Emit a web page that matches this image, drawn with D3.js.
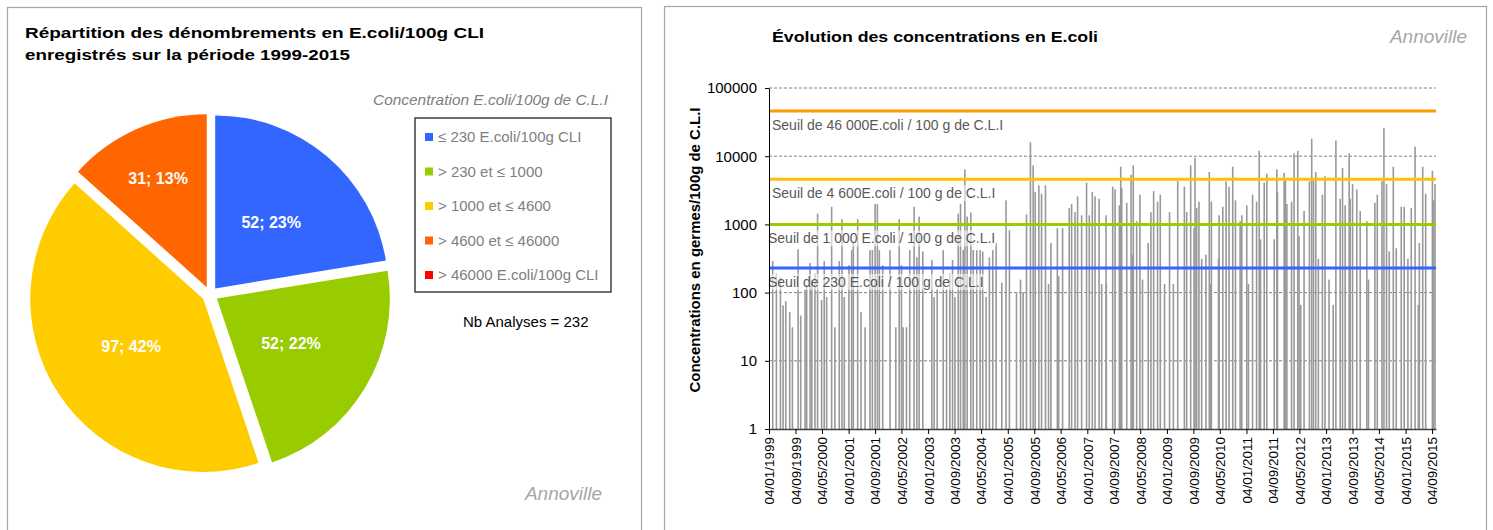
<!DOCTYPE html>
<html>
<head>
<meta charset="utf-8">
<script src="https://cdn.jsdelivr.net/npm/d3@7"></script>
<style>
body{margin:0;background:#fff}
svg{display:block;font-family:"Liberation Sans",Arial,sans-serif}
</style>
</head>
<body>
<script>
// pie data
const classes=["≤ 230 E.coli/100g CLI","> 230 et ≤ 1000","> 1000 et ≤ 4600","> 4600 et ≤ 46000","> 46000 E.coli/100g CLI"];
const counts=[52,52,97,31,0];
const pctLabels=["23%","22%","42%","13%","0%"];
const pieColors=["#3366ff","#99cc00","#ffcc00","#ff6600","#ff0000"];

// seuils
const seuils=[46000,4600,1000,230];
const seuilLabels=["Seuil de 46 000E.coli / 100 g de C.L.I","Seuil de 4 600E.coli / 100 g de C.L.I","Seuil de 1 000 E.coli / 100 g de C.L.I","Seuil de 230 E.coli / 100 g de C.L.I"];
const seuilColors=["#ff9900","#ffc000","#99cc00","#3366ff"];

const tickLabels=["04/01/1999","04/09/1999","04/05/2000","04/01/2001","04/09/2001","04/05/2002","04/01/2003","04/09/2003","04/05/2004","04/01/2005","04/09/2005","04/05/2006","04/01/2007","04/09/2007","04/05/2008","04/01/2009","04/09/2009","04/05/2010","04/01/2011","04/09/2011","04/05/2012","04/01/2013","04/09/2013","04/05/2014","04/01/2015","04/09/2015"];

const sampleDates=["1999-02-07","1999-03-13","1999-04-19","1999-05-13","1999-06-07","1999-07-13","1999-08-07","1999-09-28","1999-10-22","1999-12-01","1999-12-16",
"2000-01-16","2000-02-01","2000-03-01","2000-03-25","2000-05-01","2000-05-25","2000-06-16","2000-08-01","2000-08-31","2000-10-10","2000-11-04","2000-11-25",
"2001-01-07","2001-02-01","2001-02-16","2001-03-28","2001-04-28","2001-06-04","2001-07-19","2001-08-10","2001-09-04","2001-09-25","2001-10-13","2001-11-13",
"2002-01-19","2002-03-13","2002-04-13","2002-05-04","2002-05-19","2002-06-19","2002-07-19","2002-08-28","2002-09-22","2002-10-13","2002-11-16",
"2003-02-07","2003-02-28","2003-03-28","2003-05-22","2003-06-22","2003-07-22","2003-08-16","2003-09-07","2003-10-07","2003-10-28","2003-11-22","2003-12-07","2003-12-28",
"2004-01-31","2004-02-22","2004-03-25","2004-04-25","2004-05-19","2004-06-19","2004-07-19","2004-08-19","2004-09-19","2004-11-10","2004-12-19",
"2005-01-19","2005-03-25","2005-05-01","2005-05-25","2005-06-25","2005-07-31","2005-08-25","2005-09-13","2005-10-16","2005-11-10","2005-12-16",
"2006-01-13","2006-02-04","2006-04-04","2006-04-16","2006-05-22","2006-07-22","2006-08-13","2006-09-13","2006-10-07","2006-11-13","2006-12-28",
"2007-01-22","2007-02-19","2007-03-16","2007-04-22","2007-05-16","2007-06-25","2007-06-28","2007-08-25","2007-09-16","2007-10-25","2007-11-07","2007-11-16",
"2008-01-01","2008-02-10","2008-02-25","2008-03-01","2008-04-01","2008-05-01","2008-05-25","2008-07-16","2008-08-10","2008-09-04","2008-10-10","2008-11-04","2008-12-13",
"2009-01-28","2009-03-04","2009-04-13","2009-06-13","2009-07-04","2009-08-10","2009-09-10","2009-09-19","2009-10-04","2009-10-25","2009-11-19","2009-12-28",
"2010-01-28","2010-02-07","2010-02-16","2010-04-22","2010-04-28","2010-06-01","2010-07-01","2010-07-28","2010-08-31","2010-09-25","2010-11-07","2010-11-22",
"2011-01-07","2011-01-22","2011-03-01","2011-04-07","2011-05-01","2011-05-13","2011-06-16","2011-07-10","2011-09-16","2011-10-10","2011-10-16","2011-12-16","2011-12-28",
"2012-01-10","2012-02-22","2012-03-16","2012-04-19","2012-05-01","2012-05-16","2012-06-16","2012-08-04","2012-08-25","2012-09-10","2012-10-01","2012-10-25","2012-12-01","2012-12-25",
"2013-01-31","2013-03-10","2013-04-04","2013-05-13","2013-06-04","2013-06-28","2013-08-04","2013-08-13","2013-09-04","2013-10-13","2013-11-13",
"2014-01-13","2014-01-28","2014-03-28","2014-04-19","2014-06-01","2014-06-19","2014-07-13","2014-08-07","2014-09-13","2014-10-10","2014-11-25","2014-12-22",
"2015-01-25","2015-02-25","2015-04-01","2015-05-01","2015-05-10","2015-06-10","2015-07-07","2015-09-07","2015-09-16","2015-10-01"];

const sampleValues=[290,190,170,65,75,52,31,430,46,112,128,
272,150,190,1440,78,290,86,1810,31,290,1200,86,
252,420,535,1200,52,31,420,420,2000,2000,420,252,
420,31,1200,252,31,31,420,1810,330,1300,400,
300,86,112,420,112,190,300,86,1440,2000,420,6400,1300,
1500,420,420,420,400,86,330,420,535,140,2250,
820,102,155,102,1400,16000,7300,3000,3730,2830,3730,
134,535,880,174,880,1730,1990,1510,2580,1360,4090,
1360,2990,2580,2380,134,1360,134,3570,3270,1900,7000,3430,
2080,5350,361,7300,1110,2730,155,535,1510,3080,2160,2730,134,
1510,134,4420,3570,1510,7300,880,9500,1730,2160,312,361,
5850,134,2160,312,1360,1810,4280,3570,7000,2250,1110,1360,
1900,134,2730,2160,12000,605,4090,5530,605,6400,2990,5700,4420,
1990,2160,11000,12000,670,66,1570,4280,18000,4420,5850,312,2730,5060,
155,66,17000,2380,6700,1900,11000,2380,3900,3270,1570,
1110,155,2080,2730,4280,25800,3900,404,7000,447,1810,1810,
312,1730,13800,66,535,7000,2830,6100,2250,3900];

const w=1493,h=530;
const svg=d3.select("body").append("svg").attr("width",w).attr("height",h);

// panels
svg.append("rect").attr("x",7.5).attr("y",7.5).attr("width",634).attr("height",540)
  .attr("fill","#fff").attr("stroke","#a6a6a6").attr("stroke-width",1.2);
svg.append("rect").attr("x",664.5).attr("y",6.5).attr("width",822).attr("height",540)
  .attr("fill","#fff").attr("stroke","#a6a6a6").attr("stroke-width",1.2);

// ---------- left : pie ----------
svg.append("text").attr("x",25).attr("y",38).attr("font-size",15).attr("font-weight","bold")
  .attr("textLength",459).attr("lengthAdjust","spacingAndGlyphs")
  .text("Répartition des dénombrements en E.coli/100g  CLI");
svg.append("text").attr("x",25).attr("y",60).attr("font-size",15).attr("font-weight","bold")
  .attr("textLength",325).attr("lengthAdjust","spacingAndGlyphs")
  .text("enregistrés sur  la période 1999-2015");

const r=173;
const pie=d3.pie().sort(null).value(d=>d);
const arc=d3.arc().innerRadius(0).outerRadius(r);
const pg=svg.append("g").attr("transform","translate(210,294.5)");
const slices=pg.selectAll("g").data(pie(counts).filter(d=>d.data>0)).join("g")
  .attr("transform",d=>{const a=(d.startAngle+d.endAngle)/2;return `translate(${8*Math.sin(a)},${-8*Math.cos(a)})`});
slices.append("path").attr("d",arc).attr("fill",d=>pieColors[d.index]);
slices.append("text")
  .attr("transform",d=>{const a=(d.startAngle+d.endAngle)/2,lr=d.data<40?r*0.69:r*0.5;return `translate(${lr*Math.sin(a)},${-lr*Math.cos(a)})`})
  .attr("text-anchor","middle").attr("dy","0.36em")
  .attr("fill","#fff").attr("font-weight","bold").attr("font-size",16)
  .text(d=>d.data+"; "+pctLabels[d.index]);

svg.append("text").attr("x",608).attr("y",105).attr("text-anchor","end")
  .attr("font-size",14).attr("font-style","italic").attr("fill","#808080")
  .attr("textLength",235).attr("lengthAdjust","spacingAndGlyphs")
  .text("Concentration E.coli/100g de C.L.I");

const lg=svg.append("g").attr("transform","translate(415,118)");
lg.append("rect").attr("x",0).attr("y",0).attr("width",196).attr("height",174)
  .attr("fill","#fff").attr("stroke","#222").attr("stroke-width",1.3);
const li=lg.selectAll("g.item").data(classes).join("g").attr("class","item")
  .attr("transform",(d,i)=>`translate(10,${19+i*34.5})`);
li.append("rect").attr("x",0).attr("y",-4).attr("width",8).attr("height",8).attr("fill",(d,i)=>pieColors[i]);
li.append("text").attr("x",13).attr("dy","0.36em").attr("font-size",15).attr("fill","#808080").text(d=>d);

svg.append("text").attr("x",463).attr("y",327).attr("font-size",15).attr("fill","#000")
  .text("Nb Analyses = "+d3.sum(counts));
svg.append("text").attr("x",602).attr("y",500).attr("text-anchor","end")
  .attr("font-size",19).attr("font-style","italic").attr("fill","#a6a6a6").text("Annoville");

// ---------- right : bars ----------
const parse=d3.timeParse("%Y-%m-%d"), parseTick=d3.timeParse("%d/%m/%Y");
const x=d3.scaleTime().domain([parse("1999-01-04"),parse("2015-10-10")]).range([769,1436]);
const y=d3.scaleLog().domain([1,100000]).range([429,88]);

svg.append("text").attr("x",772).attr("y",42).attr("font-size",15).attr("font-weight","bold")
  .attr("textLength",326).attr("lengthAdjust","spacingAndGlyphs")
  .text("Évolution des concentrations en E.coli");
svg.append("text").attr("x",1467).attr("y",43).attr("text-anchor","end")
  .attr("font-size",19).attr("font-style","italic").attr("fill","#a6a6a6").text("Annoville");

svg.append("g").selectAll("line").data([10,100,1000,10000,100000]).join("line")
  .attr("x1",769).attr("x2",1436).attr("y1",d=>y(d)).attr("y2",d=>y(d))
  .attr("stroke","#808080").attr("stroke-dasharray","3,2");

const samples=sampleDates.map((d,i)=>({date:parse(d),value:sampleValues[i]}));
svg.append("g").selectAll("rect").data(samples).join("rect")
  .attr("x",d=>x(d.date)-0.8).attr("width",1.6)
  .attr("y",d=>y(d.value)).attr("height",d=>y(1)-y(d.value))
  .attr("fill","#999");

svg.append("g").selectAll("line").data(seuils).join("line")
  .attr("x1",769).attr("x2",1436).attr("y1",d=>y(d)).attr("y2",d=>y(d))
  .attr("stroke",(d,i)=>seuilColors[i]).attr("stroke-width",3);

const sl=svg.append("g").selectAll("g").data(seuils).join("g");
sl.append("text").attr("x",(d,i)=>i<2?772:768).attr("y",d=>y(d)+19)
  .attr("font-size",14).attr("fill","#595959").text((d,i)=>seuilLabels[i]);
sl.each(function(){
  const g=d3.select(this),b=g.select("text").node().getBBox();
  g.insert("rect","text").attr("x",b.x-1).attr("y",b.y).attr("width",b.width+2).attr("height",b.height)
    .attr("fill","#fff").attr("fill-opacity",0.55);
});

const yAxis=svg.append("g").attr("transform","translate(769,0)")
  .call(d3.axisLeft(y).tickValues([1,10,100,1000,10000,100000]).tickFormat(d3.format("d")).tickSize(4).tickSizeOuter(0).tickPadding(8));
yAxis.selectAll("text").attr("font-size",15).attr("fill","#000").attr("font-family",null);
yAxis.select(".domain").attr("stroke","#000");

const xAxis=svg.append("g").attr("transform","translate(0,429)")
  .call(d3.axisBottom(x).tickValues(tickLabels.map(parseTick)).tickFormat(d3.timeFormat("%d/%m/%Y")).tickSize(5).tickSizeOuter(0));
xAxis.select(".domain").attr("stroke","#404040").attr("stroke-width",1.5);
xAxis.selectAll("text").attr("font-size",13.5).attr("fill","#000").attr("font-family",null)
  .attr("transform","rotate(-90)").attr("text-anchor","end").attr("x",-8).attr("y",0).attr("dy","0.36em");

svg.append("text").attr("transform","translate(700,250) rotate(-90)").attr("text-anchor","middle")
  .attr("font-size",14.5).attr("font-weight","bold")
  .attr("textLength",285).attr("lengthAdjust","spacingAndGlyphs")
  .text("Concentrations en germes/100g de C.L.I");
</script>
</body>
</html>
